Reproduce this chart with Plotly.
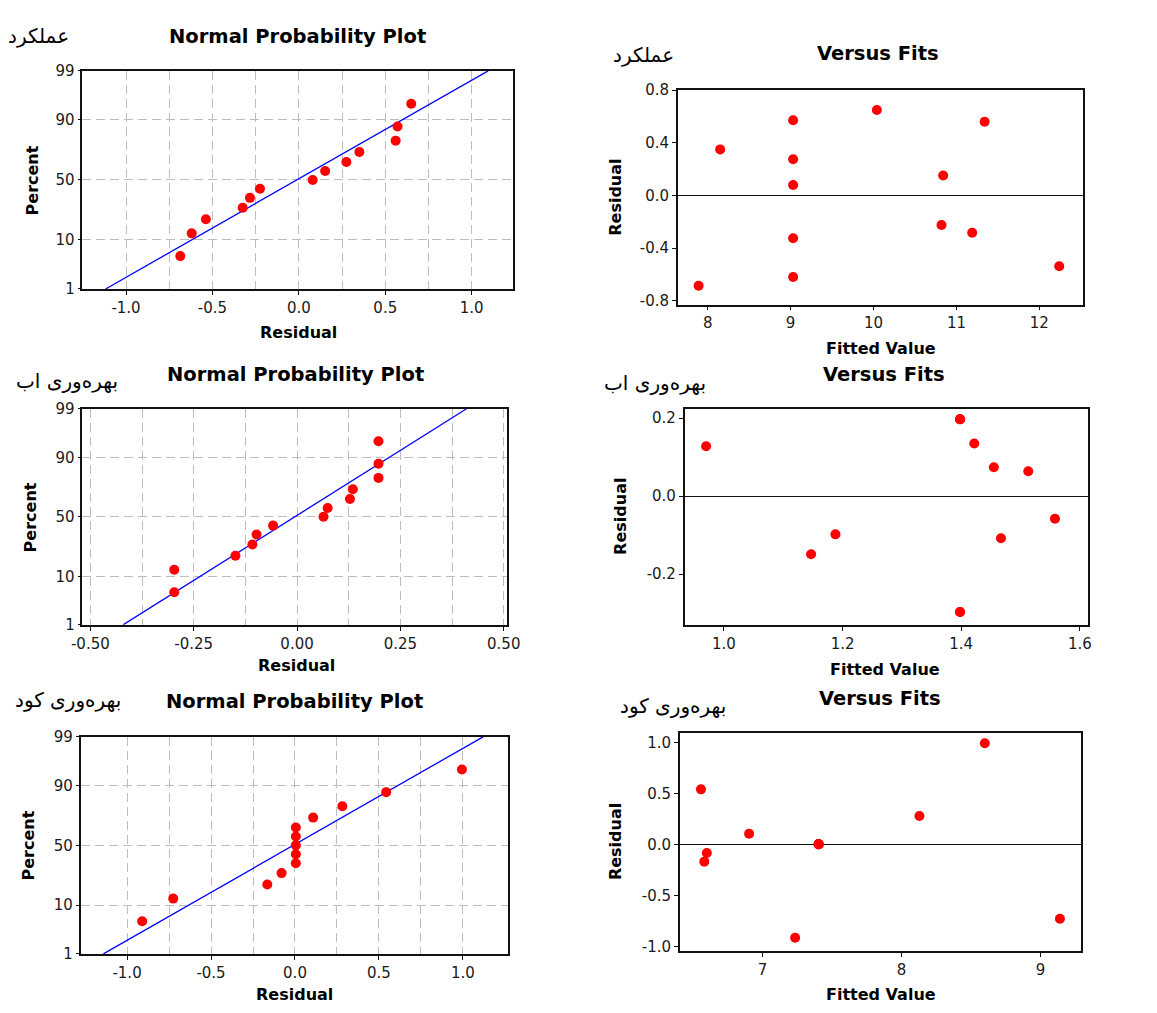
import plotly.graph_objects as go
from statistics import NormalDist

# ---------------- data ----------------
# plotting positions (percent) used by the normal probability plots (n = 13)
npp_percent = [5.2, 12.7, 20.1, 27.6, 35.1, 42.5, 50.0, 57.5, 64.9, 72.4, 79.9, 87.3, 94.8]
percent_ticks = [1, 10, 50, 90, 99]
line_percent = [1, 99]

# عملکرد (yield)
yield_fits = [7.89, 8.15, 9.03, 9.03, 9.03, 9.03, 9.03, 10.04, 10.84, 10.82, 11.19, 11.34, 12.24]
yield_resid = [-0.686, 0.35, 0.571, 0.275, 0.08, -0.325, -0.62, 0.65, 0.152, -0.225, -0.283, 0.56, -0.538]
yield_line_x = [-1.118, 1.095]

# بهرەوری اب (water productivity)
water_fits = [0.97, 1.147, 1.188, 1.398, 1.398, 1.398, 1.398, 1.398, 1.422, 1.455, 1.467, 1.513, 1.558]
water_resid = [0.128, -0.149, -0.098, 0.197, 0.197, 0.197, -0.297, -0.297, 0.135, 0.074, -0.108, 0.064, -0.058]
water_line_x = [-0.421, 0.41]

# بهرەوری کود (fertilizer productivity)
fert_fits = [6.558, 6.582, 6.60, 6.904, 7.235, 7.404, 7.404, 7.404, 7.404, 7.404, 8.129, 8.599, 9.139]
fert_resid = [0.543, -0.165, -0.08, 0.108, -0.91, 0.005, 0.005, 0.005, 0.005, 0.005, 0.282, 0.994, -0.725]
fert_line_x = [-1.141, 1.12]

# tick labels
npp1_xgrid = [-1.0, -0.75, -0.5, -0.25, 0.0, 0.25, 0.5, 0.75, 1.0]
npp1_xticks = [-1.0, -0.5, 0.0, 0.5, 1.0]
npp2_xgrid = [-0.5, -0.375, -0.25, -0.125, 0.0, 0.125, 0.25, 0.375, 0.5]
npp2_xticks = [-0.5, -0.25, 0.0, 0.25, 0.5]
vf1_xticks = [8, 9, 10, 11, 12]
vf1_yticks = [-0.8, -0.4, 0.0, 0.4, 0.8]
vf2_xticks = [1.0, 1.2, 1.4, 1.6]
vf2_yticks = [-0.2, 0.0, 0.2]
vf3_xticks = [7, 8, 9]
vf3_yticks = [-1.0, -0.5, 0.0, 0.5, 1.0]

labels_fa = ["عملکرد", "بهرەوری اب", "بهرەوری کود"]

# ---------------- layout helpers ----------------
W, H = 1157, 1013
def fx(x):
    return x / W
def fy(y):
    return 1 - y / H

zq = NormalDist().inv_cdf
def zs(p_list):
    return [zq(p / 100.0) for p in p_list]

FONT = "DejaVu Sans"
TICKCOL = "#1a1a1a"
GRIDCOL = "#bdbdbd"

fig = go.Figure()
layout = dict(
    width=W, height=H, margin=dict(l=0, r=0, t=0, b=0),
    paper_bgcolor="white", plot_bgcolor="white", showlegend=False,
    font=dict(family=FONT, size=15, color=TICKCOL),
)
annotations = []

def frame_axis(**kw):
    d = dict(showline=True, linecolor="#111111", linewidth=1.6, mirror=True,
             zeroline=False, tickfont=dict(family=FONT, size=15, color=TICKCOL),
             ticks="outside", ticklen=4, tickcolor="#111111", tickwidth=1)
    d.update(kw)
    return d

def ann(text, x, y, size, bold=False, angle=0, xanchor="center", family=FONT):
    annotations.append(dict(
        text=("<b>%s</b>" % text) if bold else text, x=fx(x), y=fy(y),
        xref="paper", yref="paper", showarrow=False, xanchor=xanchor, yanchor="middle",
        textangle=angle, font=dict(family=family, size=size, color="black")))

def fmt(v, nd):
    return f"{v:.{nd}f}"

def add_npp(idx, box, resid, line_x, xrange, xgrid, xticks, nd,
            title_xy, label_xy, xt_xy, yt_xy, label):
    xa = "x%d" % idx if idx > 1 else "x"
    ya = "y%d" % idx if idx > 1 else "y"
    x0, y0, x1, y1 = box
    srt = sorted(resid)
    fig.add_trace(go.Scatter(x=line_x, y=zs(line_percent), mode="lines",
                             line=dict(color="#0000ff", width=1.3), xaxis=xa, yaxis=ya,
                             hoverinfo="skip"))
    fig.add_trace(go.Scatter(x=srt, y=zs(npp_percent), mode="markers",
                             marker=dict(color="#ff0000", size=10), xaxis=xa, yaxis=ya))
    zmax = zq(0.99)
    layout["xaxis%s" % (idx if idx > 1 else "")] = frame_axis(
        domain=[fx(x0), fx(x1)], anchor=ya, range=xrange,
        tickvals=xticks, ticktext=[fmt(v, nd) for v in xticks],
        showgrid=True, gridcolor=GRIDCOL, griddash="9px,5px", gridwidth=1.2,
        minor=dict(tickvals=xgrid, showgrid=True, gridcolor=GRIDCOL,
                   griddash="9px,5px", gridwidth=1.2, ticks=""))
    layout["yaxis%s" % (idx if idx > 1 else "")] = frame_axis(
        domain=[fy(y1), fy(y0)], anchor=xa, range=[-zmax, zmax],
        tickvals=zs(percent_ticks), ticktext=[str(p) for p in percent_ticks],
        showgrid=True, gridcolor=GRIDCOL, griddash="9px,5px", gridwidth=1.2,
        ticklen=3)
    ann("Normal Probability Plot", title_xy[0], title_xy[1], 19.5, bold=True)
    ann(label, label_xy[0], label_xy[1], 20, xanchor="right")
    ann("Residual", xt_xy[0], xt_xy[1], 16, bold=True)
    ann("Percent", yt_xy[0], yt_xy[1], 16, bold=True, angle=-90)

def add_vf(idx, box, fits, resid, xrange, yrange, xticks, yticks, xnd, ynd,
           title_xy, label_xy, xt_xy, yt_xy, label):
    xa = "x%d" % idx
    ya = "y%d" % idx
    x0, y0, x1, y1 = box
    fig.add_trace(go.Scatter(x=fits, y=resid, mode="markers",
                             marker=dict(color="#ff0000", size=10), xaxis=xa, yaxis=ya))
    layout["xaxis%d" % idx] = frame_axis(
        domain=[fx(x0), fx(x1)], anchor=ya, range=xrange, showgrid=False,
        tickvals=xticks, ticktext=[fmt(v, xnd) for v in xticks])
    layout["yaxis%d" % idx] = frame_axis(
        domain=[fy(y1), fy(y0)], anchor=xa, range=yrange, showgrid=False,
        tickvals=yticks, ticktext=[fmt(v, ynd) for v in yticks],
        zeroline=True, zerolinecolor="#111111", zerolinewidth=1.2)
    ann("Versus Fits", title_xy[0], title_xy[1], 19.5, bold=True)
    ann(label, label_xy[0], label_xy[1], 20, xanchor="right")
    ann("Fitted Value", xt_xy[0], xt_xy[1], 16, bold=True)
    ann("Residual", yt_xy[0], yt_xy[1], 16, bold=True, angle=-90)

# row 1
add_npp(1, (73, 63, 513, 285), yield_resid, yield_line_x, [-1.252, 1.241],
        npp1_xgrid, npp1_xticks, 1, (293, 28), (61, 27), (294, 329), (22, 175), labels_fa[0])
add_vf(2, (681, 82, 1095, 301), yield_fits, yield_resid, [7.64, 12.53], [-0.83, 0.805],
       vf1_xticks, vf1_yticks, 0, 1, (885, 45), (679, 47), (888, 346), (617, 192), labels_fa[0])
# row 2
add_npp(3, (73, 407, 507, 627), water_resid, water_line_x, [-0.519, 0.509],
        npp2_xgrid, npp2_xticks, 2, (291, 372), (111, 379), (292, 668), (20, 518), labels_fa[1])
add_vf(4, (688, 407, 1100, 627), water_fits, water_resid, [0.934, 1.614], [-0.33, 0.224],
       vf2_xticks, vf2_yticks, 1, 1, (891, 372), (712, 381), (893, 672), (623, 517), labels_fa[1])
# row 3
add_npp(5, (71, 741, 508, 962), fert_resid, fert_line_x, [-1.277, 1.271],
        npp1_xgrid, npp1_xticks, 1, (289, 705), (114, 704), (290, 1003), (18, 852), labels_fa[2])
add_vf(6, (683, 737, 1093, 959), fert_fits, fert_resid, [6.406, 9.293], [-1.04, 1.096],
       vf3_xticks, vf3_yticks, 0, 1, (887, 702), (732, 710), (888, 1003), (618, 848), labels_fa[2])

layout["annotations"] = annotations
fig.update_layout(**layout)
fig.write_html("out.html")
